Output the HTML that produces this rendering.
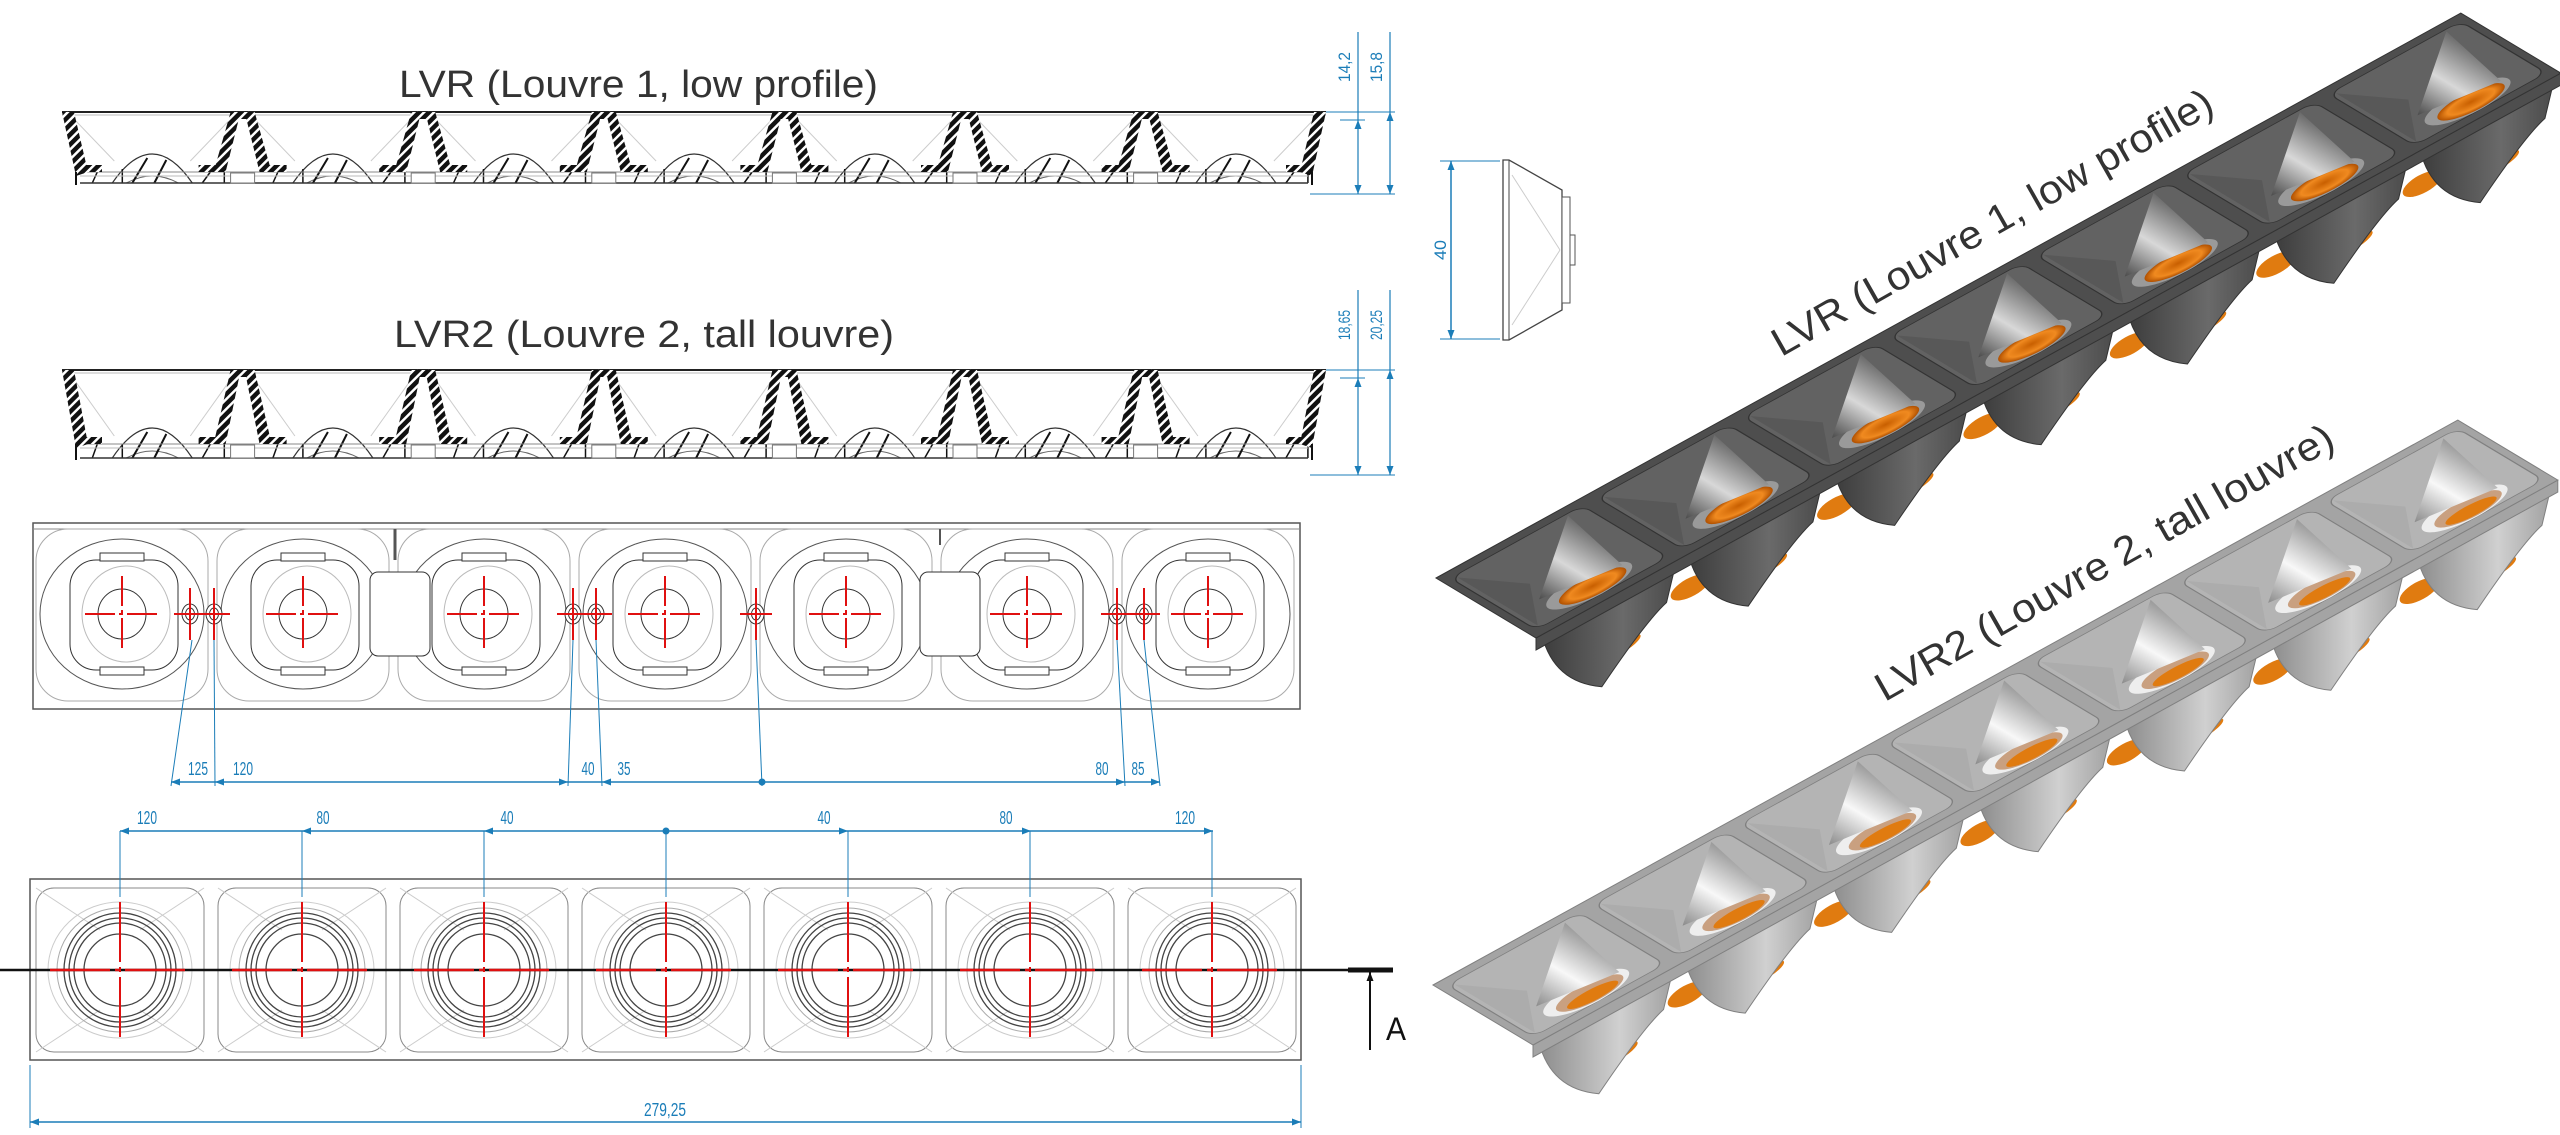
<!DOCTYPE html>
<html><head><meta charset="utf-8">
<style>
html,body{margin:0;padding:0;background:#fff;}
svg{display:block;}
.t{font-family:"Liberation Sans",sans-serif;}
</style></head>
<body>
<svg id="s" width="2560" height="1135" viewBox="0 0 2560 1135" xmlns="http://www.w3.org/2000/svg">
<defs>
<pattern id="hat" width="7" height="7" patternUnits="userSpaceOnUse" patternTransform="rotate(45)">
<rect width="7" height="7" fill="#111"/><rect x="0" y="0" width="2.5" height="7" fill="#fff"/>
</pattern>
<linearGradient id="cone1" x1="0" y1="0" x2="1" y2="0">
<stop offset="0" stop-color="#4a4a4a"/><stop offset="0.5" stop-color="#d8d8d8"/><stop offset="1" stop-color="#6a6a6a"/>
</linearGradient>
<linearGradient id="cone2" x1="0" y1="0" x2="1" y2="0">
<stop offset="0" stop-color="#8a8a8a"/><stop offset="0.5" stop-color="#f8f8f8"/><stop offset="1" stop-color="#9a9a9a"/>
</linearGradient>
<linearGradient id="bk1" x1="0" y1="0" x2="1" y2="0">
<stop offset="0" stop-color="#3c3c3c"/><stop offset="0.6" stop-color="#6a6a6a"/><stop offset="1" stop-color="#4a4a4a"/>
</linearGradient>
<linearGradient id="bk2" x1="0" y1="0" x2="1" y2="0">
<stop offset="0" stop-color="#8c8c8c"/><stop offset="0.6" stop-color="#d0d0d0"/><stop offset="1" stop-color="#a0a0a0"/>
</linearGradient>
<radialGradient id="or" cx="0.5" cy="0.5" r="0.5">
<stop offset="0" stop-color="#c85f00"/><stop offset="0.7" stop-color="#f08a20"/><stop offset="1" stop-color="#b05000"/>
</radialGradient>
</defs>
<g id="g"></g>
<text class="t" x="399" y="97" font-size="38" fill="#333" textLength="479" lengthAdjust="spacingAndGlyphs">LVR (Louvre 1, low profile)</text>
<text class="t" x="394" y="347" font-size="38" fill="#333" textLength="500" lengthAdjust="spacingAndGlyphs">LVR2 (Louvre 2, tall louvre)</text>
<text class="t" font-size="40" fill="#333" textLength="500" lengthAdjust="spacingAndGlyphs" transform="translate(1992,222) rotate(-29.5)" x="-250" y="14">LVR (Louvre 1, low profile)</text>
<text class="t" font-size="40" fill="#333" textLength="520" lengthAdjust="spacingAndGlyphs" transform="translate(2104,562) rotate(-29.5)" x="-260" y="14">LVR2 (Louvre 2, tall louvre)</text>
</svg>
<script>
var o=[];var B="#1b7db8",R="#e01010";
function L(x1,y1,x2,y2,c,w,extra){o.push('<line x1="'+x1+'" y1="'+y1+'" x2="'+x2+'" y2="'+y2+'" stroke="'+c+'" stroke-width="'+(w||1)+'" '+(extra||'')+'/>');}
function P(pts,f,s,w){o.push('<polygon points="'+pts+'" fill="'+f+'" stroke="'+(s||'none')+'" stroke-width="'+(w||1)+'"/>');}
function T(x,y,s,txt,fs,rot,col,anc){o.push('<text class="t" x="'+x+'" y="'+y+'" font-size="'+fs+'" fill="'+(col||B)+'" text-anchor="'+(anc||'middle')+'"'+(rot?' transform="rotate('+rot+' '+x+' '+y+')"':'')+' textLength="'+s+'" lengthAdjust="spacingAndGlyphs">'+txt+'</text>');}
function arrH(x,y,d){P(x+','+y+' '+(x+d*9)+','+(y-3.5)+' '+(x+d*9)+','+(y+3.5),B);}
function arrV(x,y,d,c){P(x+','+y+' '+(x-3.5)+','+(y+d*9)+' '+(x+3.5)+','+(y+d*9),c||B);}

function sec(yT,yF,yB,dT){
 var x0=62,x1=1326,p=180.6;
 L(x0,yT,x1,yT,"#222",2);
 L(x0,yT+3,x1,yT+3,"#bbb",1);
 for(var k=0;k<7;k++){var c=x0+90.3+p*k;
  L(c-85,yT,c-38,yB-22,"#ccc",1);L(c+85,yT,c+38,yB-22,"#ccc",1);
  o.push('<path d="M'+(c-40)+','+yB+' Q'+c+','+(2*dT-yB)+' '+(c+40)+','+yB+'" fill="#fff" stroke="#333" stroke-width="1.2"/>');
  o.push('<path d="M'+(c-26)+','+yB+' Q'+c+','+(yB-14)+' '+(c+26)+','+yB+'" fill="none" stroke="#666" stroke-width="1"/>');
  L(c-20,yB,c-5,dT+4,"#111",2);L(c+2,yB,c+14,dT+6,"#111",2);L(c-30,yB,c-30,yB-14,"#111",1.5);
  L(c+50,yB,c+58,yF,"#111",1.5);L(c-60,yB,c-55,yF,"#111",1.5);L(c+72,yB,c+72,yF,"#111",1.5);
 }
 L(x0+18,yF,x1-18,yF,"#888",1);L(x0+18,yF+4,x1-18,yF+4,"#bbb",1);
 L(x0+18,yB,x1-18,yB,"#333",1.5);
 P(x0+','+yT+' '+(x0+12)+','+yT+' '+(x0+26)+','+yF+' '+(x0+14)+','+(yF+4),"url(#hat)");
 P((x0+14)+','+(yF-7)+' '+(x0+40)+','+(yF-7)+' '+(x0+40)+','+yF+' '+(x0+14)+','+yF,"url(#hat)");
 P(x1+','+yT+' '+(x1-12)+','+yT+' '+(x1-26)+','+yF+' '+(x1-14)+','+(yF+4),"url(#hat)");
 P((x1-14)+','+(yF-7)+' '+(x1-40)+','+(yF-7)+' '+(x1-40)+','+yF+' '+(x1-14)+','+yF,"url(#hat)");
 L(x0+14,yF,x0+14,yB+2,"#111",2);L(x1-14,yF,x1-14,yB+2,"#111",2);
 for(var k=1;k<7;k++){var c=x0+p*k;
  P((c-12)+','+yT+' '+(c-2)+','+yT+' '+(c-17)+','+yF+' '+(c-29)+','+yF,"url(#hat)");
  P((c+12)+','+yT+' '+(c+2)+','+yT+' '+(c+17)+','+yF+' '+(c+29)+','+yF,"url(#hat)");
  P((c-12)+','+yT+' '+(c+12)+','+yT+' '+(c+11)+','+(yT+7)+' '+(c-11)+','+(yT+7),"url(#hat)");
  P((c-44)+','+(yF-7)+' '+(c-20)+','+(yF-7)+' '+(c-20)+','+yF+' '+(c-44)+','+yF,"url(#hat)");
  P((c+44)+','+(yF-7)+' '+(c+20)+','+(yF-7)+' '+(c+20)+','+yF+' '+(c+44)+','+yF,"url(#hat)");
  o.push('<rect x="'+(c-12)+'" y="'+(yF+1)+'" width="24" height="'+(yB-yF-1)+'" fill="#fff" stroke="#777"/>');
 }
}
sec(112,172,183,154);
sec(370,444,458,428);
function vdim(yT,yB,t1,t2){
 L(1326,yT,1395,yT,B,1);L(1310,yB,1395,yB,B,1);L(1340,yT+8,1365,yT+8,B,1);
 L(1358,yT-80,1358,yB,B,1.2);L(1390,yT-80,1390,yB,B,1.2);
 arrV(1358,yB,-1);arrV(1390,yB,-1);arrV(1358,yT+8,1);arrV(1390,yT,1);
 T(1350,yT-45,30,t1,17,-90);T(1382,yT-45,30,t2,17,-90);
}
vdim(112,194,"14,2","15,8");
vdim(370,475,"18,65","20,25");

o.push('<rect x="33" y="523" width="1267" height="186" fill="none" stroke="#555" stroke-width="1.5"/>');
L(33,529,1300,529,"#888",1);
for(var k=0;k<7;k++){var c=122+181*k,cy=614;
 o.push('<rect x="'+(c-86)+'" y="529" width="172" height="172" rx="32" fill="none" stroke="#aaa"/>');
 o.push('<ellipse cx="'+c+'" cy="'+cy+'" rx="82" ry="75" fill="none" stroke="#555"/>');
 o.push('<rect x="'+(c-52)+'" y="560" width="108" height="110" rx="26" fill="#fff" stroke="#333"/>');
 o.push('<ellipse cx="'+(c+4)+'" cy="'+cy+'" rx="44" ry="48" fill="none" stroke="#bbb"/>');
 o.push('<rect x="'+(c-22)+'" y="553" width="44" height="8" fill="#fff" stroke="#333"/>');
 o.push('<rect x="'+(c-22)+'" y="667" width="44" height="8" fill="#fff" stroke="#333"/>');
 o.push('<ellipse cx="'+c+'" cy="'+cy+'" rx="24" ry="25" fill="none" stroke="#333"/>');
 L(c-37,cy,c+37,cy,R,2,'stroke-dasharray="30,4,4,4"');L(c,cy-38,c,cy+38,R,2,'stroke-dasharray="30,4,4,4"');
}
o.push('<rect x="370" y="572" width="60" height="84" rx="8" fill="#fff" stroke="#333"/>');
o.push('<rect x="920" y="572" width="60" height="84" rx="8" fill="#fff" stroke="#333"/>');
L(395,529,395,560,"#555",3);L(940,529,940,545,"#555",2);
[190,214,573,596,756,1117,1144].forEach(function(x){
 o.push('<ellipse cx="'+x+'" cy="614" rx="8" ry="10" fill="#fff" stroke="#333"/><ellipse cx="'+x+'" cy="614" rx="4.5" ry="6" fill="none" stroke="#333"/>');
 L(x-16,614,x+16,614,R,2);L(x,588,x,640,R,2);
});
var yd=782;
L(192,640,171,yd+4,B,1);L(214,640,215,yd+4,B,1);L(573,640,568,yd+4,B,1);L(596,640,602,yd+4,B,1);
L(756,640,762,yd+4,B,1);L(1117,640,1125,yd+4,B,1);L(1144,640,1160,yd+4,B,1);
L(171,yd,1160,yd,B,1.5);
arrH(171,yd,1);arrH(215,yd,1);arrH(568,yd,-1);arrH(602,yd,1);arrH(1125,yd,-1);arrH(1160,yd,-1);
o.push('<circle cx="762" cy="'+yd+'" r="3.5" fill="'+B+'"/>');
[[198,"125",20],[243,"120",20],[588,"40",13],[624,"35",13],[1102,"80",13],[1138,"85",13]].forEach(function(a){T(a[0],775,a[2],a[1],18);});

o.push('<rect x="30" y="879" width="1271" height="181" fill="none" stroke="#555" stroke-width="1.5"/>');
var yd2=831;
L(120,yd2,1213,yd2,B,1.5);
for(var k=0;k<7;k++){var c=120+182*k,cy=970;
 o.push('<rect x="'+(c-84)+'" y="888" width="168" height="164" rx="18" fill="none" stroke="#888"/>');
 L(c-84,888,c-20,930,"#ccc",1);L(c+84,888,c+20,930,"#ccc",1);L(c-84,1052,c-20,1010,"#ccc",1);L(c+84,1052,c+20,1010,"#ccc",1);
 o.push('<ellipse cx="'+c+'" cy="'+cy+'" rx="72" ry="68" fill="none" stroke="#ccc"/>');
 o.push('<ellipse cx="'+c+'" cy="'+cy+'" rx="63" ry="62" fill="none" stroke="#aaa"/>');
 [56,51,46].forEach(function(r){o.push('<ellipse cx="'+c+'" cy="'+cy+'" rx="'+r+'" ry="'+(r+1)+'" fill="none" stroke="#444" stroke-width="1.3"/>');});
 o.push('<ellipse cx="'+c+'" cy="'+cy+'" rx="36" ry="36" fill="none" stroke="#444" stroke-width="1.3"/>');
 L(c,yd2,c,897,B,1);
}
L(0,970,1393,970,"#111",2.5);
for(var k=0;k<7;k++){var c=120+182*k;L(c-70,970,c+69,970,R,2.5,'stroke-dasharray="60,5,5,5"');L(c,902,c,1038,R,2,'stroke-dasharray="60,5,5,5"');}
L(1348,970,1393,970,"#111",5);
L(1370,972,1370,1050,"#111",2);arrV(1370,972,1,"#111");
T(1386,1040,20,"A",32,0,"#111","start");
[[120,1],[302,1],[484,1],[848,-1],[1031,-1],[1213,-1]].forEach(function(a){arrH(a[0],yd2,a[1]);});
o.push('<circle cx="666" cy="'+yd2+'" r="3.5" fill="'+B+'"/>');
[[147,"120",20],[323,"80",13],[507,"40",13],[824,"40",13],[1006,"80",13],[1185,"120",20]].forEach(function(a){T(a[0],824,a[2],a[1],18);});
L(30,1065,30,1128,B,1);L(1301,1065,1301,1128,B,1);L(30,1122,1301,1122,B,1.5);arrH(30,1122,1);arrH(1301,1122,-1);
T(665,1116,42,"279,25",18);

L(1451,161,1451,339,B,1.5);arrV(1451,161,1);arrV(1451,339,-1);L(1440,161,1500,161,B,1);L(1440,339,1500,339,B,1);
T(1446,250,20,"40",17,-90);
o.push('<path d="M1503,160 L1503,340 L1509,340 L1562,310 L1562,190 L1509,160 Z" fill="#fff" stroke="#444" stroke-width="1.3"/>');
L(1509,160,1509,340,"#444",1);
o.push('<rect x="1562" y="197" width="8" height="106" fill="#fff" stroke="#555"/>');
o.push('<rect x="1570" y="235" width="5" height="30" fill="#fff" stroke="#555"/>');
L(1512,175,1560,250,"#ccc",1);L(1512,325,1560,250,"#ccc",1);

function strip(ox,oy,dark){
 var ux=146.4,uy=-80.7,vx=100,vy=60,h=12;
 var base=dark?"#4e4e4e":"#a4a4a4",cell=dark?"#626262":"#b4b4b4",rim=dark?"#333":"#808080";
 var fx=ox+vx,fy=oy+vy;
 for(var k=0;k<7;k++){
  var ax=fx+ux*(k+0.04),ay=fy+uy*(k+0.04),bx=fx+ux*(k+0.96),by=fy+uy*(k+0.96);
  var ob=fx+ux*(k+0.5)+5,oby=fy+uy*(k+0.5)+52;
  o.push('<ellipse cx="'+ob+'" cy="'+oby+'" rx="30" ry="7" transform="rotate(-29 '+ob+' '+oby+')" fill="#e07b10"/>');
  if(k<6){var cx2=fx+ux*(k+1)+8,cy2=fy+uy*(k+1)+30;o.push('<ellipse cx="'+cx2+'" cy="'+cy2+'" rx="22" ry="9" transform="rotate(-29 '+cx2+' '+cy2+')" fill="#e07b10"/>');}
  o.push('<path d="M'+ax+','+ay+' L'+bx+','+by+' L'+(bx-10)+','+(by+42)+' Q'+(bx-30)+','+(by+60)+' '+(ax+60)+','+(ay+52)+' Q'+(ax+12)+','+(ay+48)+' '+ax+','+ay+' Z" fill="url(#'+(dark?'bk1':'bk2')+')" stroke="'+rim+'" stroke-width="1"/>');
 }
 P(fx+','+fy+' '+(fx+7*ux)+','+(fy+7*uy)+' '+(fx+7*ux)+','+(fy+7*uy+h)+' '+fx+','+(fy+h),base,rim,1);
 P(ox+','+oy+' '+(ox+7*ux)+','+(oy+7*uy)+' '+(ox+7*ux+vx)+','+(oy+7*uy+vy)+' '+fx+','+fy,base,rim,1);
 var m='matrix('+ux+','+uy+','+vx+','+vy+','+ox+','+oy+')';
 var s='<g transform="'+m+'">';
 for(var k=0;k<7;k++){
  s+='<rect x="'+(k+0.05)+'" y="0.07" width="0.9" height="0.86" rx="0.08" fill="'+cell+'" stroke="'+rim+'" stroke-width="0.008"/>';
  s+='<polygon points="'+(k+0.08)+',0.1 '+(k+0.3)+',0.5 '+(k+0.08)+',0.9" fill="'+base+'" opacity="0.5"/>';
  s+='<ellipse cx="'+(k+0.5)+'" cy="0.8" rx="0.28" ry="0.13" fill="'+(dark?'#9a9a9a':'#eeeeee')+'"/>';
  s+='<ellipse cx="'+(k+0.51)+'" cy="0.82" rx="0.22" ry="0.1" fill="'+(dark?'url(#or)':'#c9a080')+'"/>';
  if(!dark)s+='<ellipse cx="'+(k+0.51)+'" cy="0.85" rx="0.17" ry="0.06" fill="#e07b10"/>';
  s+='<polygon points="'+(k+0.84)+',0.09 '+(k+0.24)+',0.68 '+(k+0.74)+',0.78" fill="url(#'+(dark?'cone1':'cone2')+')"/>';
 }
 s+='</g>';o.push(s);
}
strip(1436,578,true);
strip(1433,985,false);

document.getElementById('g').innerHTML=o.join('');
</script>
</body></html>
